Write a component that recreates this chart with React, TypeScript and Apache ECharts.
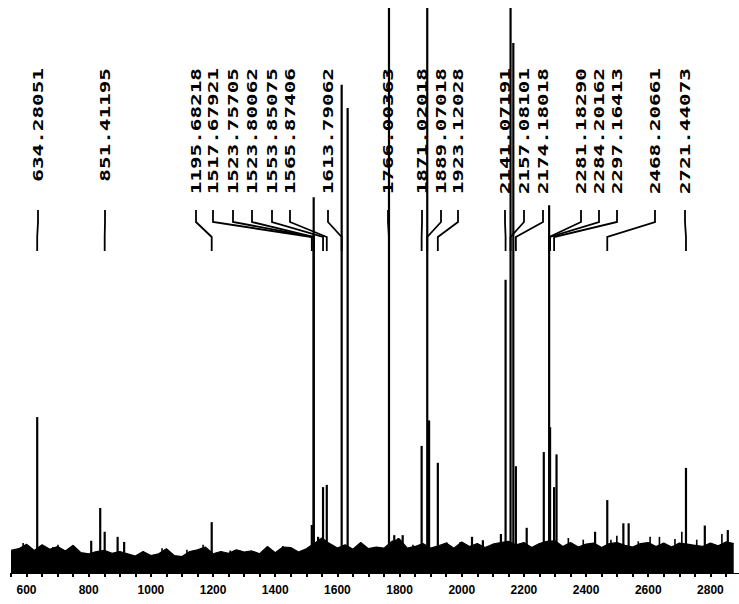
import React, { useEffect, useRef } from "react";
import * as echarts from "echarts";

// Peak positions (m/z) and relative heights
const peakX = [
  634.28, 808, 837, 851.41, 893, 914, 1195.68, 1517.68, 1523.76, 1523.8, 1538,
  1553.85, 1565.87, 1613.79, 1633, 1679, 1766.0, 1783, 1796, 1810, 1871.02,
  1889.07, 1895, 1923.12, 2033, 2068, 2126, 2141.07, 2157.08, 2166, 2174.18,
  2209, 2264, 2281.18, 2284.2, 2297.16, 2305, 2429, 2468.21, 2520, 2537,
  2721.44, 2782, 2856,
];
const peakH = [
  27.6, 5.7, 11.5, 7.3, 6.4, 5.5, 9.0, 8.5, 66.5, 60, 6.4,
  15.2, 15.6, 86.4, 82.3, 5.0, 100, 6.7, 6.2, 6.7, 22.5,
  100, 27, 19.5, 6.4, 5.8, 6.9, 51.9, 100, 93.8, 18.9,
  8.0, 21.4, 65.1, 25.8, 15.2, 21.0, 7.3, 12.9, 8.8, 8.8,
  18.6, 8.4, 7.6,
];

// Small noise spikes above the baseline
const spikeX = [
  589, 685, 701, 746, 1036, 1116, 1168, 1255, 1287, 1377, 1425, 1448, 1843,
  1952, 1995, 2343, 2391, 2480, 2499, 2568, 2606, 2636, 2686, 2708, 2756, 2837,
];
const spikeH = [
  5.3, 4.6, 5.0, 4.6, 4.4, 4.1, 5.0, 4.0, 4.0, 4.6, 4.8, 4.6, 5.0,
  5.4, 5.5, 6.2, 5.9, 5.9, 6.6, 5.6, 6.4, 6.4, 6.0, 7.3, 5.9, 6.9,
];

// Baseline noise level, sampled every 25 units from 550
const noiseStart = 550;
const noiseStep = 25;
const noise = [
  4.0, 4.3, 5.1, 4.0, 5.0, 4.2, 4.7, 3.9, 4.9, 3.6, 3.4, 3.8, 4.0, 3.5, 3.8,
  3.4, 3.0, 3.8, 3.1, 3.4, 4.3, 3.1, 2.9, 3.8, 4.1, 4.6, 3.4, 3.8, 3.5, 4.1,
  3.7, 3.9, 3.4, 4.7, 3.6, 4.6, 4.5, 3.7, 4.3, 5.2, 6.2, 5.2, 4.4, 5.0, 4.2,
  5.4, 4.3, 4.6, 4.4, 5.6, 6.0, 4.4, 4.7, 5.2, 4.4, 4.8, 5.3, 4.4, 5.5, 4.7,
  5.2, 4.5, 5.1, 5.4, 5.6, 5.0, 5.4, 4.5, 5.2, 5.6, 5.7, 4.7, 5.4, 4.6, 5.1,
  5.3, 4.5, 5.2, 5.4, 4.9, 4.6, 5.2, 5.4, 4.7, 5.3, 4.6, 5.3, 5.1, 4.9, 4.7,
  5.3, 4.8, 5.5, 5.2,
];

// Annotated peaks (labels)
const labelPeaks = [
  634.28051, 851.41195, 1195.68218, 1517.67921, 1523.75705, 1523.80062,
  1553.85075, 1565.87406, 1613.79062, 1766.00363, 1871.02018, 1889.07018,
  1923.12028, 2141.07191, 2157.08101, 2174.18018, 2281.1829, 2284.20162,
  2297.16413, 2468.20661, 2721.44073,
];

// Layout: pixel x of each rotated label
const labelPx = [
  38, 105, 196, 213, 233, 252, 272, 290, 328, 388, 422, 441, 458, 505, 524,
  543, 581, 599, 617, 655, 685,
];

export default function App() {
  const ref = useRef<HTMLDivElement>(null);
  useEffect(() => {
    if (!ref.current) return;
    const chart = echarts.init(ref.current, undefined, { renderer: "svg" });
    const noiseData = noise.map((v, i) => [noiseStart + i * noiseStep, v]);
    const peakData = peakX.map((x, i) => [x, peakH[i]]);
    const spikeData = spikeX.map((x, i) => [x, spikeH[i]]);
    const labelData = labelPeaks.map((x) => [x, 0]);

    const renderStick = (w: number) => (params: any, api: any) => {
      const x = api.value(0);
      const h = api.value(1);
      const p0 = api.coord([x, 0]);
      const p1 = api.coord([x, h]);
      return {
        type: "line",
        shape: { x1: p0[0], y1: p0[1], x2: p1[0], y2: p1[1] },
        style: { stroke: "#000", lineWidth: w },
      };
    };

    chart.setOption({
      animation: false,
      backgroundColor: "#fff",
      grid: { left: 11, right: 0, top: 8, bottom: 31 },
      xAxis: {
        type: "value",
        min: 550,
        max: 2892,
        interval: 50,
        axisLine: { show: true, lineStyle: { color: "#000", width: 1 } },
        axisTick: { show: true, length: 4, lineStyle: { color: "#000", width: 2 } },
        splitLine: { show: false },
        axisLabel: {
          margin: 11,
          color: "#000",
          fontFamily: "Liberation Sans",
          fontWeight: "bold",
          fontSize: 12,
          showMaxLabel: false,
          formatter: (v: number) => (v % 200 === 0 ? String(v) : ""),
        },
      },
      yAxis: {
        type: "value",
        min: 0,
        max: 100,
        show: false,
      },
      series: [
        {
          type: "line",
          data: noiseData,
          symbol: "none",
          lineStyle: { color: "#000", width: 1.2 },
          areaStyle: { color: "#000", opacity: 1 },
          z: 1,
        },
        {
          type: "custom",
          data: spikeData,
          z: 2,
          renderItem: renderStick(1.6),
        },
        {
          type: "custom",
          data: peakData,
          z: 2,
          renderItem: renderStick(2.2),
        },
        {
          type: "custom",
          data: labelData,
          z: 3,
          renderItem: (params: any, api: any) => {
            const i = params.dataIndex;
            const v = api.value(0);
            const px = api.coord([v, 0])[0];
            const lx = labelPx[i];
            return {
              type: "group",
              children: [
                {
                  type: "polyline",
                  shape: {
                    points: [
                      [lx, 210],
                      [lx, 222],
                      [px, 237],
                      [px, 251],
                    ],
                  },
                  style: { stroke: "#000", lineWidth: 1.8, fill: null },
                },
                {
                  type: "text",
                  x: lx,
                  y: 68,
                  rotation: Math.PI / 2,
                  scaleX: 1.5,
                  style: {
                    text: labelPeaks[i].toFixed(5),
                    fill: "#000",
                    font: 'bold 14px "DejaVu Sans Mono"',
                    align: "right",
                    verticalAlign: "middle",
                  },
                },
              ],
            };
          },
        },
      ],
    });
    return () => chart.dispose();
  }, []);

  return (
    <div
      ref={ref}
      style={{ position: "fixed", left: 0, top: 0, width: 739, height: 604, background: "#fff" }}
    />
  );
}
